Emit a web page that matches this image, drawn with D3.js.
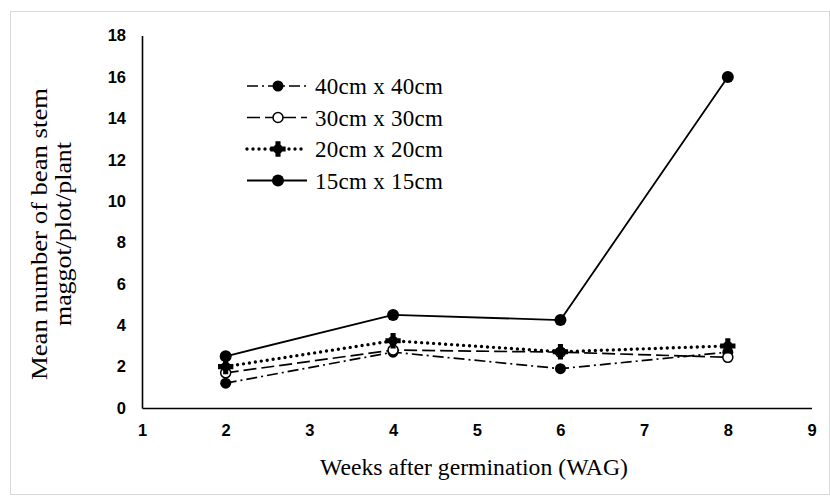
<!DOCTYPE html>
<html><head><meta charset="utf-8">
<script src="https://cdn.jsdelivr.net/npm/d3@7"></script>
<style>body{margin:0;background:#fff}svg{display:block}</style>
</head><body>
<svg id="c" width="830" height="502"></svg>
<script>
const weeks = [2, 4, 6, 8];
const s40 = [1.2, 2.7, 1.9, 2.7];
const s30 = [1.7, 2.8, 2.7, 2.45];
const s20 = [2.0, 3.25, 2.72, 3.0];
const s15 = [2.5, 4.5, 4.25, 16];
const seriesNames = ["40cm x 40cm", "30cm x 30cm", "20cm x 20cm", "15cm x 15cm"];
const xTicks = [1, 2, 3, 4, 5, 6, 7, 8, 9];
const yTicks = [0, 2, 4, 6, 8, 10, 12, 14, 16, 18];

const styles = [
  {dash: "11,4,2,4", width: 1.7, marker: "dot", r: 5.5},
  {dash: "13,5", width: 1.7, marker: "open", r: 5},
  {dash: "0,6", width: 3.4, cap: "round", marker: "star", r: 6},
  {dash: null, width: 1.8, marker: "dot", r: 6}
];
const seriesData = [s40, s30, s20, s15];

const svg = d3.select("#c");
svg.append("rect").attr("x", 10.5).attr("y", 11.5).attr("width", 819).attr("height", 483)
  .attr("fill", "#fff").attr("stroke", "#d9d9d9");

const x = d3.scaleLinear().domain([1, 9]).range([142, 811.5]);
const y = d3.scaleLinear().domain([0, 18]).range([408, 35.6]);

const xAxis = svg.append("g").attr("transform", "translate(0,408)")
  .call(d3.axisBottom(x).tickValues(xTicks).tickSize(0).tickPadding(20));
const yAxis = svg.append("g").attr("transform", "translate(142,0)")
  .call(d3.axisLeft(y).tickValues(yTicks).tickSize(0).tickPadding(16));
[xAxis, yAxis].forEach(a => {
  a.select(".domain").attr("stroke", "#000").attr("stroke-width", 1.6);
  a.selectAll("text").attr("font-family", "'Liberation Sans', Arial, sans-serif")
    .attr("font-weight", "bold").attr("font-size", 16.5).attr("fill", "#000");
});
xAxis.selectAll("text").attr("dy", "0.5em");

function drawMarker(g, type, cx, cy, r) {
  if (type === "dot") {
    g.append("circle").attr("cx", cx).attr("cy", cy).attr("r", r).attr("fill", "#000");
  } else if (type === "open") {
    g.append("circle").attr("cx", cx).attr("cy", cy).attr("r", r).attr("fill", "#fff")
      .attr("stroke", "#000").attr("stroke-width", 1.5);
  } else {
    g.append("path").attr("transform", `translate(${cx},${cy})`)
      .attr("d", d3.symbol().type(d3.symbolCross).size(130)()).attr("fill", "#000");
    g.append("circle").attr("cx", cx).attr("cy", cy).attr("r", 4.8).attr("fill", "#000");
  }
}

const line = d3.line().x((d, i) => x(weeks[i])).y(d => y(d));
seriesData.forEach((vals, k) => {
  const st = styles[k];
  const g = svg.append("g");
  g.append("path").attr("d", line(vals)).attr("fill", "none").attr("stroke", "#000")
    .attr("stroke-width", st.width).attr("stroke-dasharray", st.dash)
    .attr("stroke-linecap", st.cap || "butt");
  vals.forEach((v, i) => drawMarker(g, st.marker, x(weeks[i]), y(v), st.r));
});

const lg = svg.append("g");
seriesNames.forEach((name, k) => {
  const st = styles[k];
  const ly = 86 + k * 31.5;
  lg.append("line").attr("x1", 247).attr("x2", 307).attr("y1", ly).attr("y2", ly)
    .attr("stroke", "#000").attr("stroke-width", st.width).attr("stroke-dasharray", st.dash)
    .attr("stroke-linecap", st.cap || "butt");
  drawMarker(lg, st.marker, 278, ly, st.r);
  lg.append("text").attr("x", 315).attr("y", ly).attr("dy", "0.35em")
    .attr("font-family", "'Liberation Serif', 'Times New Roman', serif").attr("font-size", 23)
    .attr("textLength", 128).attr("lengthAdjust", "spacing")
    .text(name);
});

svg.append("text").attr("x", 474).attr("y", 475)
  .attr("text-anchor", "middle").attr("font-family", "'Liberation Serif', 'Times New Roman', serif")
  .attr("font-size", 23).attr("textLength", 308).attr("lengthAdjust", "spacingAndGlyphs")
  .text("Weeks after germination (WAG)");
const yt = svg.append("text").attr("transform", "translate(0,234) rotate(-90)")
  .attr("text-anchor", "middle").attr("font-family", "'Liberation Serif', 'Times New Roman', serif")
  .attr("font-size", 23);
yt.append("tspan").attr("x", 0).attr("y", 47).attr("textLength", 292).attr("lengthAdjust", "spacingAndGlyphs").text("Mean number of bean stem");
yt.append("tspan").attr("x", 0).attr("y", 71).attr("textLength", 184).attr("lengthAdjust", "spacingAndGlyphs").text("maggot/plot/plant");
</script>
</body></html>
